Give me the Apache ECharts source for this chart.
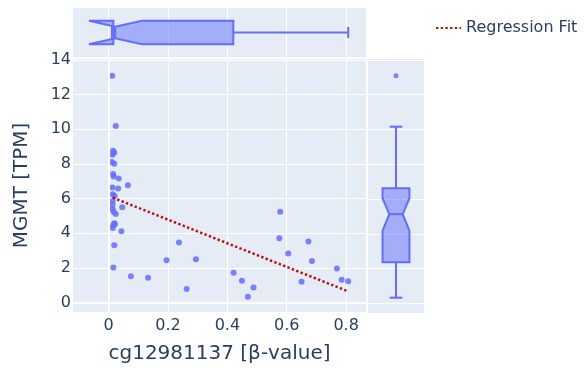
<!DOCTYPE html>
<html>
<head>
<meta charset="utf-8">
<script src="https://cdn.jsdelivr.net/npm/echarts@6/dist/echarts.min.js"></script>
<style>html,body{margin:0;padding:0;background:#fff}#c{width:587px;height:369px}</style>
</head>
<body>
<div id="c"></div>
<script>
// scatter data: cg12981137 beta-value vs MGMT TPM
const scatterX = [0.012,0.024,0.015,0.013,0.019,0.011,0.019,0.015,0.017,0.034,0.065,0.013,0.032,0.014,0.020,0.014,0.013,0.014,0.017,0.024,0.046,0.019,0.021,0.016,0.014,0.043,0.019,0.016,
  0.075,0.133,0.195,0.237,0.294,0.263,0.421,0.449,0.488,0.469,0.578,0.575,0.605,0.673,0.685,0.650,0.769,0.785,0.807];
const scatterY = [13.09,10.18,8.76,8.53,8.64,8.11,8.00,7.42,7.27,7.16,6.77,6.63,6.57,6.24,6.14,5.86,5.64,5.38,5.22,5.10,5.50,4.57,4.52,4.45,4.30,4.11,3.30,2.02,
  1.51,1.42,2.43,3.46,2.50,0.78,1.72,1.25,0.87,0.33,5.24,3.71,2.83,3.52,2.39,1.20,1.96,1.31,1.22];
// regression fit endpoints
const regX = [0.014, 0.807];
const regY = [6.05, 0.64];
// box stats: q1, notch low, median, notch high, q3, lower whisker, upper whisker
const xBox = [0.016, -0.066, 0.022, 0.112, 0.420, 0.011, 0.807];
const yBox = [2.37, 4.18, 5.13, 6.05, 6.62, 0.33, 10.16];
const yOutliers = [13.09];
const xTicks = [0, 0.2, 0.4, 0.6, 0.8];
const yTicks = [0, 2, 4, 6, 8, 10, 12, 14];
const xTickLabels = ['0', '0.2', '0.4', '0.6', '0.8'];

const FONT = 'DejaVu Sans';
const TXT = '#2a3f5f';
const BLUE = '#636efa';
const X_MIN = -0.12, X_MAX = 0.867, Y_MIN = -0.55, Y_MAX = 14.05;

function boxRender(horizontal, s) {
  return function (params, api) {
    const [q1, nl, md, nh, q3, wl, wh] = s;
    const c = 0.5, hw = 0.24, nw = hw * 0.5, cw = hw * 0.47;
    const P = horizontal ? (v, p) => api.coord([v, p]) : (v, p) => api.coord([p, v]);
    const poly = [P(q1, c - hw), P(nl, c - hw), P(md, c - nw), P(nh, c - hw), P(q3, c - hw),
      P(q3, c + hw), P(nh, c + hw), P(md, c + nw), P(nl, c + hw), P(q1, c + hw)];
    const ls = { stroke: BLUE, lineWidth: 2, fill: null };
    const line = (a, b) => ({ type: 'line', shape: { x1: a[0], y1: a[1], x2: b[0], y2: b[1] }, style: ls });
    return {
      type: 'group',
      children: [
        line(P(q1, c), P(wl, c)),
        line(P(q3, c), P(wh, c)),
        line(P(wl, c - cw), P(wl, c + cw)),
        line(P(wh, c - cw), P(wh, c + cw)),
        { type: 'polygon', shape: { points: poly }, style: { fill: 'rgba(99,110,250,0.5)', stroke: BLUE, lineWidth: 2, lineJoin: 'miter', miterLimit: 2 } },
        line(P(md, c - nw), P(md, c + nw))
      ]
    };
  };
}

const chart = echarts.init(document.getElementById('c'), null, { renderer: 'canvas' });
const gridLine = { show: true, lineStyle: { color: '#ffffff', width: 1 } };
chart.setOption({
  animation: false,
  textStyle: { fontFamily: FONT },
  legend: {
    data: ['Regression Fit'], left: 430, top: 15, itemWidth: 25, itemHeight: 14,
    itemStyle: { opacity: 0 },
    textStyle: { fontFamily: FONT, fontSize: 16, color: TXT }
  },
  grid: [
    { left: 73, top: 59, width: 293, height: 254, show: true, backgroundColor: '#e5ecf6', borderWidth: 0 },
    { left: 73, top: 8, width: 293, height: 49, show: true, backgroundColor: '#e5ecf6', borderWidth: 0 },
    { left: 368, top: 59, width: 56, height: 254, show: true, backgroundColor: '#e5ecf6', borderWidth: 0 }
  ],
  xAxis: [
    {
      gridIndex: 0, type: 'value', min: X_MIN, max: X_MAX,
      axisLine: { show: false }, axisTick: { show: false, customValues: xTicks },
      axisLabel: { customValues: xTicks, formatter: v => xTickLabels[xTicks.indexOf(Math.round(v * 10) / 10)] ?? '', color: TXT, fontSize: 16, fontFamily: FONT, margin: 6 },
      splitLine: gridLine,
      name: 'cg12981137 [β-value]', nameLocation: 'middle', nameGap: 32,
      nameTextStyle: { color: TXT, fontSize: 20, fontFamily: FONT }
    },
    {
      gridIndex: 1, type: 'value', min: X_MIN, max: X_MAX,
      axisLine: { show: false }, axisTick: { show: false, customValues: xTicks },
      axisLabel: { show: false, customValues: xTicks }, splitLine: gridLine
    },
    {
      gridIndex: 2, type: 'value', min: 0, max: 1,
      axisLine: { show: false }, axisTick: { show: false }, axisLabel: { show: false }, splitLine: { show: false }
    }
  ],
  yAxis: [
    {
      gridIndex: 0, type: 'value', min: Y_MIN, max: Y_MAX,
      axisLine: { show: false }, axisTick: { show: false, customValues: yTicks },
      axisLabel: { customValues: yTicks, color: TXT, fontSize: 16, fontFamily: FONT, margin: 2 },
      splitLine: gridLine,
      name: 'MGMT [TPM]', nameLocation: 'middle', nameGap: 41,
      nameTextStyle: { color: TXT, fontSize: 20, fontFamily: FONT }
    },
    {
      gridIndex: 1, type: 'value', min: 0, max: 1,
      axisLine: { show: false }, axisTick: { show: false }, axisLabel: { show: false }, splitLine: { show: false }
    },
    {
      gridIndex: 2, type: 'value', min: Y_MIN, max: Y_MAX,
      axisLine: { show: false }, axisTick: { show: false, customValues: yTicks },
      axisLabel: { show: false, customValues: yTicks }, splitLine: gridLine
    }
  ],
  series: [
    {
      type: 'line', xAxisIndex: 0, yAxisIndex: 0, data: [], z: 1, silent: true,
      markLine: {
        silent: true, symbol: 'none', label: { show: false },
        lineStyle: { color: '#ffffff', width: 2, type: 'solid' },
        data: [{ xAxis: 0 }, { yAxis: 0 }]
      }
    },
    {
      type: 'scatter', xAxisIndex: 0, yAxisIndex: 0, z: 3,
      data: scatterX.map((x, i) => [x, scatterY[i]]),
      symbolSize: 6, itemStyle: { color: BLUE, opacity: 0.85 }
    },
    {
      name: 'Regression Fit', type: 'line', xAxisIndex: 0, yAxisIndex: 0, z: 4,
      data: regX.map((x, i) => [x, regY[i]]),
      symbol: 'none', showSymbol: false,
      lineStyle: { color: '#b81414', width: 2.5, type: [2.4, 2.3] },
      itemStyle: { color: '#b81414' }
    },
    {
      type: 'custom', xAxisIndex: 1, yAxisIndex: 1, data: [[xBox[2], 0.5]],
      renderItem: boxRender(true, xBox), z: 3
    },
    {
      type: 'custom', xAxisIndex: 2, yAxisIndex: 2, data: [[0.5, yBox[2]]],
      renderItem: boxRender(false, yBox), z: 3
    },
    {
      type: 'scatter', xAxisIndex: 2, yAxisIndex: 2, z: 4,
      data: yOutliers.map(v => [0.5, v]), symbolSize: 5, itemStyle: { color: BLUE }
    }
  ]
});
</script>
</body>
</html>
